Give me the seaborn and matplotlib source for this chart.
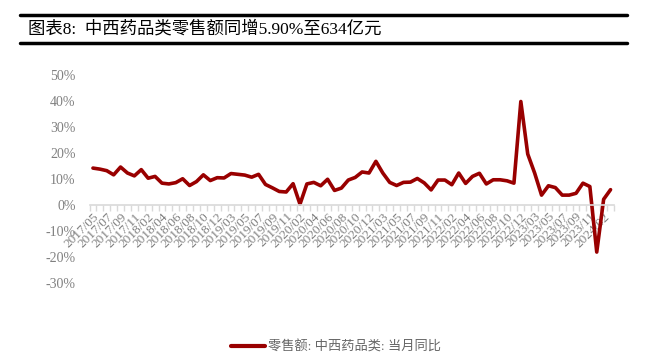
import numpy as np
import pandas as pd
import seaborn as sns
import matplotlib.pyplot as plt
from matplotlib.lines import Line2D
from matplotlib.ticker import FuncFormatter, FixedLocator

sns.set_theme(style='white')
plt.rcParams['font.family'] = ['Liberation Serif', 'Noto Sans CJK SC', 'DejaVu Sans']

# 月份（1月与2月合并，无单独1月数据）
months = (['2017/%02d' % m for m in range(5, 13)]
          + ['%d/%02d' % (y, m) for y in range(2018, 2024) for m in range(2, 13)]
          + ['2024/02', '2024/03'])

# 中西药品类零售额当月同比（%）
yoy = [14.2, 13.8, 13.2, 11.6, 14.6, 12.3, 11.2, 13.6,
       10.3, 11.0, 8.4, 8.1, 8.6, 10.1, 7.5, 9.0, 11.6, 9.4, 10.5,
       10.4, 12.1, 11.8, 11.5, 10.7, 11.8, 7.9, 6.6, 5.2, 5.0, 8.2,
       0.3, 8.1, 8.7, 7.4, 9.9, 5.6, 6.5, 9.6, 10.6, 12.7, 12.3,
       16.8, 12.3, 8.7, 7.5, 8.7, 8.8, 10.2, 8.5, 5.8, 9.6, 9.6,
       7.8, 12.3, 8.3, 11.0, 12.2, 8.1, 9.7, 9.7, 9.3, 8.4, 39.8,
       19.6, 12.3, 3.8, 7.4, 6.7, 3.8, 3.8, 4.5, 8.4, 7.1, -18.1,
       2.2, 5.9]

series_name = '零售额: 中西药品类: 当月同比'
title = '图表8:  中西药品类零售额同增5.90%至634亿元'

df = pd.DataFrame({'idx': np.arange(len(months)), 'month': months,
                   'val': np.array(yoy) / 100, 'name': series_name})

fig = plt.figure(figsize=(6.46, 3.54), dpi=100)
ax = fig.add_axes([89.5 / 646, 1 - 283 / 354, (614 - 89.5) / 646, (283 - 75) / 354])

sns.lineplot(data=df, x='idx', y='val', hue='name', palette=['#990000'],
             linewidth=2.6, ax=ax)

ax.set_xlim(-0.5, len(months) - 0.5)
ax.set_ylim(-0.3, 0.5)
ax.set_yticks(np.arange(-0.3, 0.51, 0.1))
ax.yaxis.set_major_formatter(FuncFormatter(lambda v, p: '%d%%' % round(v * 100)))
ax.set_xlabel('')
ax.set_ylabel('')

for s in ['top', 'right', 'left']:
    ax.spines[s].set_visible(False)
ax.spines['bottom'].set_position(('data', 0))
ax.spines['bottom'].set_color('#d9d9d9')
ax.spines['bottom'].set_linewidth(1.2)

ax.set_xticks(df['idx'][::2])
ax.set_xticklabels(df['month'][::2], rotation=45, ha='right',
                   rotation_mode='anchor', fontsize=9.5, color='#808080')
ax.xaxis.set_minor_locator(FixedLocator(np.arange(-0.5, len(months), 1)))
ax.tick_params(axis='x', which='major', length=0, pad=4)
ax.tick_params(axis='x', which='minor', bottom=True, length=4, color='#d9d9d9', width=1)
ax.tick_params(axis='y', length=0, labelsize=10, labelcolor='#808080', pad=10)

leg = ax.legend(loc='upper center', bbox_to_anchor=(0.47, -0.22), frameon=False,
                handlelength=2.6, handletextpad=0.2, fontsize=9.5)
for t in leg.get_texts():
    t.set_color('#666666')
for h in leg.get_lines():
    h.set_linewidth(3)

fig.add_artist(Line2D([20 / 646, 627 / 646], [1 - 15 / 354, 1 - 15 / 354],
                      color='black', linewidth=2.5))
fig.add_artist(Line2D([20 / 646, 627 / 646], [1 - 43 / 354, 1 - 43 / 354],
                      color='black', linewidth=2.5))
fig.text(28 / 646, 1 - 29 / 354, title, fontsize=12.5, va='center', ha='left', color='black')

fig.savefig('out.png', dpi=100)
